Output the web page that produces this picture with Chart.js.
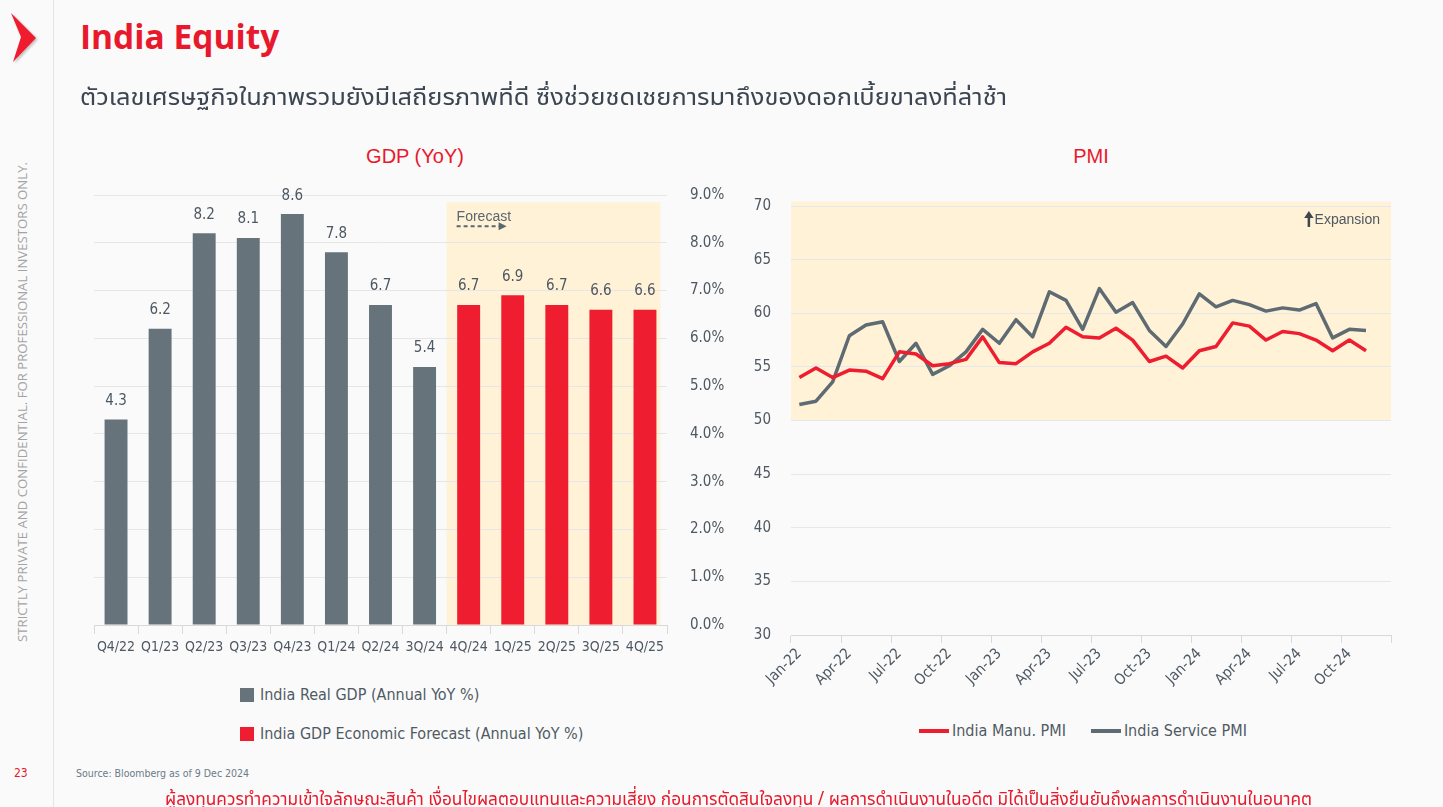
<!DOCTYPE html>
<html>
<head>
<meta charset="utf-8">
<script src="https://cdn.jsdelivr.net/npm/chart.js@4.4.1/dist/chart.umd.min.js"></script>
<style>
  body { margin: 0; width: 1443px; height: 807px; overflow: hidden; background: #FAFAFA; position: relative;
         font-family: 'DejaVu Sans Condensed', 'Liberation Sans', sans-serif; }
  .abs { position: absolute; white-space: nowrap; }
  #vline { left: 53px; top: 0; width: 1px; height: 807px; background: #E4E4E4; }
  #title { left: 80px; top: 13px; font: bold 33.5px 'Open Sans', 'Noto Sans', sans-serif; color: #E8192C; }
  .thai { font-family: 'Noto Sans Thai UI', 'Noto Sans Thai', 'Sarabun', 'Kanit', 'DejaVu Sans Condensed', sans-serif; transform-origin: left center; }
  #subtitle { left: 80px; top: 78px; font-size: 25px; color: #3C4652; }
  .ctitle { font: 20px 'Liberation Sans', Arial, sans-serif; color: #E8192C; transform: translateX(-50%); }
  #side { left: 22px; top: 402px; transform: translate(-50%, -50%) rotate(-90deg);
          font: 13.2px 'Open Sans', 'Noto Sans', sans-serif; color: #A3A3A3; }
  .leg { font-size: 16px; color: #505A64; display: flex; align-items: center; }
  .sq { width: 14px; height: 14px; margin-right: 6px; }
  .ln { width: 30px; height: 4px; margin-right: 3px; }
  #page { left: 14px; top: 766px; font-size: 12px; color: #E8192C; }
  #source { left: 76px; top: 767px; font-size: 10.5px; color: #6A7A8A; }
  #footer { left: 165px; top: 785px; font-size: 19px; color: #E8192C; }
</style>
</head>
<body>
<div class="abs" id="vline"></div>
<svg class="abs" style="left:0;top:0" width="50" height="70">
  <defs>
    <filter id="sh" x="-30%" y="-30%" width="160%" height="160%">
      <feDropShadow dx="1.5" dy="1.5" stdDeviation="1" flood-color="#000" flood-opacity="0.25"/>
    </filter>
  </defs>
  <polygon points="11,13 36,38 13,62 21,37" fill="#EE1C2E" filter="url(#sh)"/>
</svg>
<div class="abs" id="title">India Equity</div>
<div class="abs thai" id="subtitle">ตัวเลขเศรษฐกิจในภาพรวมยังมีเสถียรภาพที่ดี ซึ่งช่วยชดเชยการมาถึงของดอกเบี้ยขาลงที่ล่าช้า</div>
<div class="abs" id="side">STRICTLY PRIVATE AND CONFIDENTIAL. FOR PROFESSIONAL INVESTORS ONLY.</div>

<div class="abs ctitle" style="left:415px;top:145px">GDP (YoY)</div>
<div class="abs ctitle" style="left:1091px;top:145px">PMI</div>

<canvas class="abs" id="gdpChart" style="left:60px;top:170px;width:700px;height:500px"></canvas>
<canvas class="abs" id="pmiChart" style="left:740px;top:180px;width:690px;height:530px"></canvas>

<div class="abs leg" style="left:240px;top:685px"><div class="sq" style="background:#66737A"></div><span id="legA"></span></div>
<div class="abs leg" style="left:240px;top:724px"><div class="sq" style="background:#EE1D2F"></div><span id="legB"></span></div>

<div class="abs leg" style="left:919px;top:721px">
  <div class="ln" style="background:#EE1D2F"></div><span id="legC"></span>
  <div class="ln" style="background:#5F6B73;margin-left:25px"></div><span id="legD"></span>
</div>

<div class="abs" id="page">23</div>
<div class="abs" id="source">Source: Bloomberg as of 9 Dec 2024</div>
<div class="abs thai" id="footer">ผู้ลงทุนควรทำความเข้าใจลักษณะสินค้า เงื่อนไขผลตอบแทนและความเสี่ยง ก่อนการตัดสินใจลงทุน / ผลการดำเนินงานในอดีต มิได้เป็นสิ่งยืนยันถึงผลการดำเนินงานในอนาคต</div>

<script>
// GDP data (annual YoY %)
const gdpLabels = ["Q4/22", "Q1/23", "Q2/23", "Q3/23", "Q4/23", "Q1/24", "Q2/24", "3Q/24",
                   "4Q/24", "1Q/25", "2Q/25", "3Q/25", "4Q/25"];
const gdpActual = [4.3, 6.2, 8.2, 8.1, 8.6, 7.8, 6.7, 5.4, null, null, null, null, null];
const gdpForecast = [null, null, null, null, null, null, null, null, 6.7, 6.9, 6.7, 6.6, 6.6];
const gdpForecastStart = 8; // index of first forecast quarter

// PMI data, monthly
const pmiLabels = ["Jan-22", "Feb-22", "Mar-22", "Apr-22", "May-22", "Jun-22", "Jul-22", "Aug-22", "Sep-22", "Oct-22", "Nov-22", "Dec-22",
                   "Jan-23", "Feb-23", "Mar-23", "Apr-23", "May-23", "Jun-23", "Jul-23", "Aug-23", "Sep-23", "Oct-23", "Nov-23", "Dec-23",
                   "Jan-24", "Feb-24", "Mar-24", "Apr-24", "May-24", "Jun-24", "Jul-24", "Aug-24", "Sep-24", "Oct-24", "Nov-24", "Dec-24"];
const manuPMI = [54.0, 54.9, 54.0, 54.7, 54.6, 53.9, 56.4, 56.2, 55.1, 55.3, 55.7, 57.8,
                 55.4, 55.3, 56.4, 57.2, 58.7, 57.8, 57.7, 58.6, 57.5, 55.5, 56.0, 54.9,
                 56.5, 56.9, 59.1, 58.8, 57.5, 58.3, 58.1, 57.5, 56.5, 57.5, 56.5, null];
const servicePMI = [51.5, 51.8, 53.6, 57.9, 58.9, 59.2, 55.5, 57.2, 54.3, 55.1, 56.4, 58.5,
                    57.2, 59.4, 57.8, 62.0, 61.2, 58.5, 62.3, 60.1, 61.0, 58.4, 56.9, 59.0,
                    61.8, 60.6, 61.2, 60.8, 60.2, 60.5, 60.3, 60.9, 57.7, 58.5, 58.4, null];
const expansionFrom = 50;

const gdpNames = ["India Real GDP (Annual YoY %)", "India GDP Economic Forecast (Annual YoY %)"];
const pmiNames = ["India Manu. PMI", "India Service PMI"];

const GREY = "#66737A", RED = "#EE1D2F", LINE_GREY = "#5F6B73", BAND = "#FFF2D6", TXT = "#4E5862";
const NARROW = "'DejaVu Sans Condensed', 'Liberation Sans', sans-serif";

Chart.defaults.font.family = NARROW;
Chart.defaults.color = TXT;

document.getElementById("legA").innerText = gdpNames[0];
document.getElementById("legB").innerText = gdpNames[1];
document.getElementById("legC").innerText = pmiNames[0];
document.getElementById("legD").innerText = pmiNames[1];

// squeeze the Thai lines to the width they take on the slide
function fitWidth(id, target) {
    const el = document.getElementById(id);
    const w = el.getBoundingClientRect().width;
    el.style.transform = "scaleX(" + (target / w) + ")";
}
fitWidth("subtitle", 927);
fitWidth("footer", 1147);

// cream forecast box + "Forecast" arrow, drawn under the grid
const forecastBand = {
    id: "forecastBand",
    beforeDraw(chart) {
        const { ctx, scales: { x, y } } = chart;
        const w = x.getPixelForValue(1) - x.getPixelForValue(0);
        const left = x.getPixelForValue(gdpForecastStart) - w / 2;
        const right = x.getPixelForValue(gdpLabels.length - 1) + w * 0.35;
        const top = y.getPixelForValue(8.85);
        const bottom = y.getPixelForValue(0);
        ctx.save();
        ctx.fillStyle = BAND;
        ctx.fillRect(left, top, right - left, bottom - top);
        ctx.fillStyle = "#5A6670";
        ctx.font = "14px 'Liberation Sans', Arial, sans-serif";
        ctx.textBaseline = "alphabetic";
        ctx.fillText("Forecast", left + 10, top + 19);
        ctx.strokeStyle = "#5A6670";
        ctx.lineWidth = 2;
        ctx.setLineDash([4, 3]);
        ctx.beginPath();
        ctx.moveTo(left + 10, top + 24);
        ctx.lineTo(left + 53, top + 24);
        ctx.stroke();
        ctx.setLineDash([]);
        ctx.beginPath();
        ctx.moveTo(left + 52, top + 20);
        ctx.lineTo(left + 60, top + 24);
        ctx.lineTo(left + 52, top + 28);
        ctx.closePath();
        ctx.fill();
        ctx.restore();
    }
};

const barValues = {
    id: "barValues",
    afterDatasetsDraw(chart) {
        const { ctx } = chart;
        ctx.save();
        ctx.font = "15px " + NARROW;
        ctx.fillStyle = TXT;
        ctx.textAlign = "center";
        ctx.textBaseline = "bottom";
        chart.data.datasets.forEach((ds, i) => {
            chart.getDatasetMeta(i).data.forEach((bar, j) => {
                if (ds.data[j] == null) return;
                ctx.fillText(ds.data[j].toFixed(1), bar.x, bar.y - 11);
            });
        });
        ctx.restore();
    }
};

new Chart(document.getElementById("gdpChart"), {
    type: "bar",
    data: {
        labels: gdpLabels,
        datasets: [
            { label: gdpNames[0], data: gdpActual, backgroundColor: GREY },
            { label: gdpNames[1], data: gdpForecast, backgroundColor: RED }
        ]
    },
    options: {
        responsive: false,
        animation: false,
        grouped: false,
        categoryPercentage: 1,
        barPercentage: 0.52,
        layout: { padding: { left: 34, top: 25, right: 0, bottom: 0 } },
        plugins: { legend: { display: false }, tooltip: { enabled: false } },
        scales: {
            x: {
                grid: { drawOnChartArea: false, tickLength: 9, color: "#D9D9D9" },
                border: { color: "#D9D9D9" },
                ticks: { font: { size: 14 }, padding: 5, maxRotation: 0, autoSkip: false, color: TXT },
                afterFit(s) { s.height = 45; }
            },
            y: {
                position: "right",
                min: 0, max: 9,
                grid: { color: "#E6E6E6", drawTicks: false },
                border: { display: false },
                ticks: { stepSize: 1, padding: 23, font: { size: 15 }, color: TXT,
                         callback: v => v.toFixed(1) + "%" },
                afterFit(s) { s.width = 93; s.paddingTop = 0; s.paddingBottom = 0; }
            }
        }
    },
    plugins: [forecastBand, barValues]
});

// cream "expansion" zone above 50 on the PMI chart
const expansionBand = {
    id: "expansionBand",
    beforeDraw(chart) {
        const { ctx, chartArea, scales: { y } } = chart;
        const top = y.getPixelForValue(70.4);
        const bottom = y.getPixelForValue(expansionFrom);
        ctx.save();
        ctx.fillStyle = BAND;
        ctx.fillRect(chartArea.left, top, chartArea.right - chartArea.left, bottom - top);
        // arrow + label
        const ty = y.getPixelForValue(68.7);
        ctx.font = "14px 'Liberation Sans', Arial, sans-serif";
        ctx.fillStyle = TXT;
        ctx.textAlign = "right";
        ctx.textBaseline = "middle";
        const tx = chartArea.right - 11;
        ctx.fillText("Expansion", tx, ty);
        const ax = tx - ctx.measureText("Expansion").width - 6;
        ctx.fillStyle = "#3E4650";
        ctx.fillRect(ax - 1, ty - 3, 2.5, 10);
        ctx.beginPath();
        ctx.moveTo(ax - 4.5, ty - 2);
        ctx.lineTo(ax + 0.25, ty - 9);
        ctx.lineTo(ax + 5, ty - 2);
        ctx.closePath();
        ctx.fill();
        ctx.restore();
    }
};

new Chart(document.getElementById("pmiChart"), {
    type: "line",
    data: {
        labels: pmiLabels,
        datasets: [
            { label: pmiNames[0], data: manuPMI, borderColor: RED, borderWidth: 3.5 },
            { label: pmiNames[1], data: servicePMI, borderColor: LINE_GREY, borderWidth: 3.5 }
        ]
    },
    options: {
        responsive: false,
        animation: false,
        elements: { point: { radius: 0 }, line: { tension: 0, borderJoinStyle: "round" } },
        layout: { padding: { left: 0, top: 26, right: 39, bottom: 0 } },
        plugins: { legend: { display: false }, tooltip: { enabled: false } },
        scales: {
            x: {
                offset: true,
                grid: {
                    offset: true, drawOnChartArea: false, tickLength: 8,
                    color: c => (c.index === undefined || c.index % 3 === 0) ? "#D9D9D9" : "rgba(0,0,0,0)"
                },
                border: { color: "#D9D9D9" },
                ticks: {
                    autoSkip: false, maxRotation: 45, minRotation: 45, padding: 2,
                    font: { size: 15 }, color: TXT,
                    callback: (v, i) => i % 3 === 0 ? pmiLabels[i] : ""
                },
                afterFit(s) { s.height = 75; }
            },
            y: {
                min: 30, max: 70,
                grid: { color: "#E4E7EB", drawTicks: false },
                border: { display: false },
                ticks: { stepSize: 5, padding: 20, font: { size: 15 }, color: TXT },
                afterFit(s) { s.width = 51; s.paddingTop = 0; s.paddingBottom = 0; }
            }
        }
    },
    plugins: [expansionBand]
});
</script>
</body>
</html>
